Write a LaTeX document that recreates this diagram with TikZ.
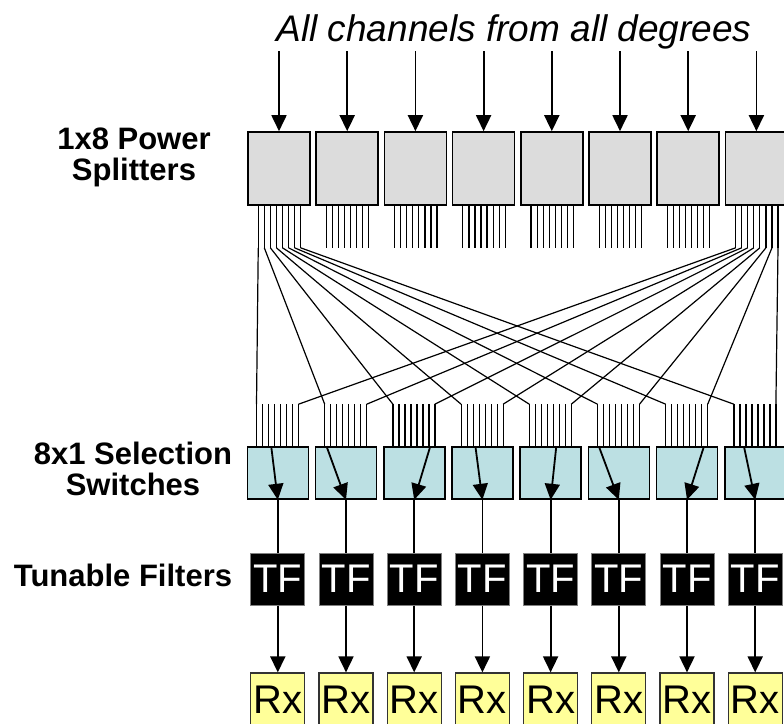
\documentclass[tikz,border=0pt]{standalone}
\usepackage{fontspec}
\setmainfont{Liberation Sans}
\usetikzlibrary{arrows.meta,positioning,calc}
\definecolor{splitgray}{HTML}{DCDCDC}
\definecolor{switchblue}{HTML}{BCE0E3}
\definecolor{rxyellow}{HTML}{FFFF99}

\begin{document}
\begin{tikzpicture}[
  x=1pt, y=-1pt,
  box/.style={draw, line width=1.6pt, inner sep=0pt},
  splitter/.style={box, fill=splitgray, minimum width=62pt, minimum height=73pt},
  switchbox/.style={box, fill=switchblue, minimum width=61pt, minimum height=52pt},
  filter/.style={draw=gray, line width=1pt, fill=black, text=white, inner sep=0pt,
    minimum width=54pt, minimum height=52pt, font=\fontsize{40}{40}\selectfont},
  rx/.style={draw=black!80, line width=1.2pt, fill=rxyellow, inner sep=0pt,
    minimum width=54pt, minimum height=54pt, font=\fontsize{40}{40}\selectfont},
  lbl/.style={font=\bfseries\fontsize{31}{31}\selectfont, align=center},
  arr/.style={-{Triangle[width=15pt,length=16pt]}, line width=1.8pt},
  wire/.style={line width=1.8pt},
  fib/.style={line width=1.2pt}
]
\useasboundingbox (0,0) rectangle (784,723);
\clip (0,0) rectangle (784,723);

\node[font=\itshape\fontsize{37}{37}\selectfont, anchor=base] (title) at (514,41) {All channels from all degrees};
\node[lbl] (lsplit) at (134,157) {1x8 Power\\Splitters};
\node[lbl] (lswitch) at (133,468.5) {8x1 Selection\\Switches};
\node[lbl, anchor=base] (lfilter) at (123,586.7) {Tunable Filters};

\foreach \i [count=\k from 0] in {1,...,8}{
  \node[splitter] (sp\i) at (279+68.2*\k,168.5) {};
  \node[switchbox] (sw\i) at (277.8+68.2*\k,473) {};
  \node[filter] (tf\i) at (277.8+68.2*\k,579) {TF};
  \node[rx] (rx\i) at (277.8+68.2*\k,700) {Rx};
  \coordinate (in\i) at ($(sp\i.north)+(0,-80)$);
  \draw[arr] (in\i) -- (sp\i.north);
  \foreach \j in {1,...,8}{
    \draw[fib] ($(sp\i.south west)+(5+6.05*\j,0)$) -- ++(0,42) coordinate (spf\i-\j);
    \draw[fib] ($(sw\i.north west)+(4+6*\j,0)$) -- ++(0,-42) coordinate (swf\i-\j);
  }
  \draw[wire] (sw\i) -- (tf\i);
  \draw[arr] (tf\i) -- (rx\i);
}

\foreach \j in {1,...,8}{
  \draw[fib] (spf1-\j) -- (swf\j-1);
  \draw[fib] (spf8-\j) -- (swf\j-8);
}

\foreach \i/\o in {1/24.7,2/11.8,3/47.4,4/24.3,5/37,6/11.3,7/48.3,8/20}{
  \draw[arr] ($(sw\i.north west)+(\o,0)$) -- (sw\i.south);
}
\end{tikzpicture}
\end{document}
